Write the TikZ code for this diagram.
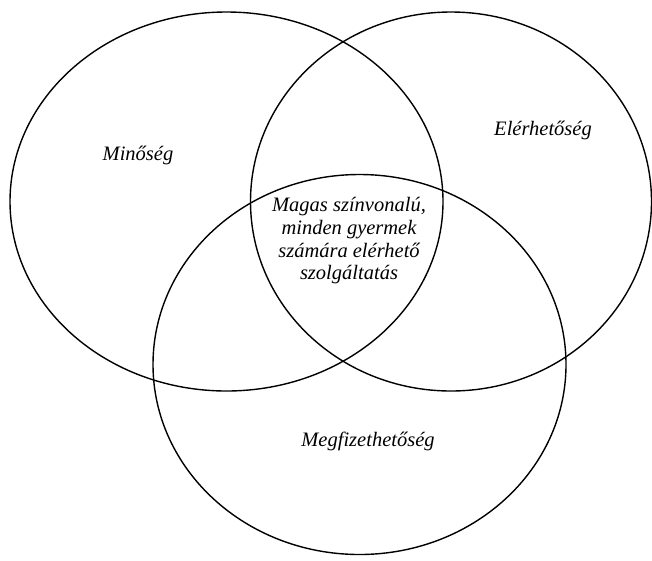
\documentclass[tikz,border=0pt]{standalone}
\usepackage{fontspec}
\setmainfont{Liberation Serif}
\begin{document}
\begin{tikzpicture}[x=1pt,y=-1pt,
  ring/.style={draw=black,line width=1.4pt},
  lbl/.style={font=\fontsize{20.5}{22.7}\selectfont\itshape,inner sep=0pt,align=center}]
\useasboundingbox (0,0) rectangle (652,560);
\draw[ring] (226.5,201.5) ellipse [x radius=216.5,y radius=189.5];
\draw[ring] (451,201.5) ellipse [x radius=200.5,y radius=189.5];
\draw[ring] (359.5,364.5) ellipse [x radius=206.5,y radius=190];
\node[lbl] (q) at (138,155) {Minőség};
\node[lbl] (a) at (543,130) {Elérhetőség};
\node[lbl] (c) at (349,241) {Magas színvonalú,\\minden gyermek\\számára elérhető\\szolgáltatás};
\node[lbl] (m) at (368,441) {Megfizethetőség};
\end{tikzpicture}
\end{document}
